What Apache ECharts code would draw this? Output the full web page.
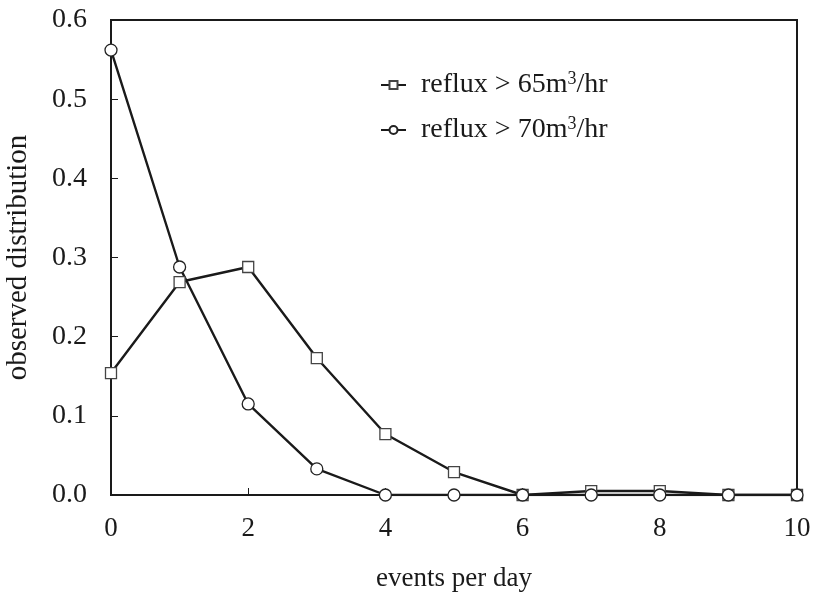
<!DOCTYPE html>
<html>
<head>
<meta charset="utf-8">
<script src="https://cdn.jsdelivr.net/npm/echarts@6/dist/echarts.min.js"></script>
<style>
html,body{margin:0;padding:0;background:#fff;}
#chart{width:814px;height:596px;}
</style>
</head>
<body>
<div id="chart"></div>
<script>
// events per day
var eventsPerDay = [0, 1, 2, 3, 4, 5, 6, 7, 8, 9, 10];
// reflux > 65 m3/hr
var reflux65 = [0.154, 0.269, 0.288, 0.173, 0.077, 0.029, 0.0, 0.005, 0.005, 0.0, 0.0];
// reflux > 70 m3/hr
var reflux70 = [0.562, 0.288, 0.115, 0.033, 0.0, 0.0, 0.0, 0.0, 0.0, 0.0, 0.0];

var font = 'Liberation Serif, Times New Roman, serif';
var ink = '#1a1a1a';

function pairs(xs, ys){
    return xs.map(function(x, i){ return [x, ys[i]]; });
}

var chart = echarts.init(document.getElementById('chart'));
var options = {
    animation:false,
    backgroundColor:'#fff',
    textStyle:{fontFamily:font, color:ink},
    grid:{left:111, right:17, top:20, bottom:101, outerBoundsMode:'none', containLabel:false,
        show:true, borderColor:ink, borderWidth:2},
    legend:{
        orient:'vertical',
        left:375, top:65,
        itemWidth:25, itemHeight:10, itemGap:16,
        data:['r65', 'r70'],
        formatter:function(name){
            return name == 'r65'
                ? '{a|reflux > 65m}{s|3}{a|/hr}'
                : '{a|reflux > 70m}{s|3}{a|/hr}';
        },
        textStyle:{
            fontFamily:font, color:ink, padding:[0,0,0,10],
            rich:{
                a:{fontFamily:font, fontSize:28, color:ink},
                s:{fontFamily:font, fontSize:18, color:ink, padding:[0,0,12,0]}
            }
        }
    },
    xAxis:{
        type:'value', min:0, max:10, interval:2,
        name:'events per day', nameLocation:'middle', nameGap:70,
        nameTextStyle:{fontFamily:font, fontSize:27, color:ink},
        axisLine:{lineStyle:{color:ink, width:2}},
        axisTick:{inside:true, length:7, lineStyle:{color:ink}},
        axisLabel:{fontFamily:font, fontSize:27, color:ink, margin:20},
        splitLine:{show:false}
    },
    yAxis:{
        type:'value', min:0, max:0.6, interval:0.1,
        name:'observed distribution', nameLocation:'middle', nameGap:78,
        nameTextStyle:{fontFamily:font, fontSize:29, color:ink},
        axisLine:{show:true, lineStyle:{color:ink, width:2}},
        axisTick:{show:true, inside:true, length:7, lineStyle:{color:ink}},
        axisLabel:{fontFamily:font, fontSize:28, color:ink, margin:24,
            formatter:function(v){ return v.toFixed(1); }},
        splitLine:{show:false}
    },
    series:[
        {
            name:'r65', type:'line', data:pairs(eventsPerDay, reflux65),
            symbol:'rect', symbolSize:11, showAllSymbol:true,
            lineStyle:{color:ink, width:2.4},
            itemStyle:{color:'#fff', borderColor:'#444', borderWidth:1.3}
        },
        {
            name:'r70', type:'line', data:pairs(eventsPerDay, reflux70),
            symbol:'circle', symbolSize:12, showAllSymbol:true,
            lineStyle:{color:ink, width:2.4},
            itemStyle:{color:'#fff', borderColor:'#222', borderWidth:1.3}
        }
    ]
};
chart.setOption(options);
</script>
</body>
</html>
